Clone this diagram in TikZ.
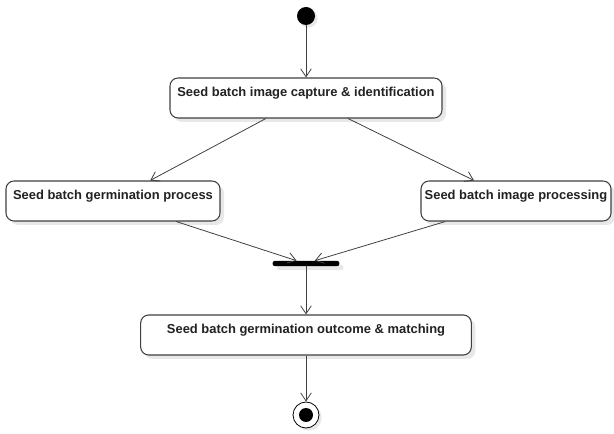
\documentclass[tikz,border=0pt]{standalone}
\usepackage{fontspec}
\newfontfamily\actfont{Liberation Sans}
\usetikzlibrary{positioning,arrows.meta,calc,shadows}
\definecolor{ActLine}{RGB}{64,64,64}
\definecolor{ActText}{RGB}{34,34,34}
\definecolor{ActShade}{RGB}{232,232,232}
\tikzset{
  act box/.style={
    draw=ActLine,
    line width=0.8pt,
    rounded corners=6pt,
    fill=white,
    align=center,
    font=\actfont\bfseries\fontsize{9.7}{11}\selectfont,
    text=ActText,
    inner sep=2pt,
    minimum height=30pt,
    drop shadow={shadow xshift=3pt, shadow yshift=-3pt, fill=ActShade, opacity=1}
  },
  act start/.style={circle, fill=black, minimum size=13.5pt, inner sep=0pt,
    drop shadow={shadow xshift=2pt, shadow yshift=-2pt, fill=ActShade, opacity=1}},
  act bar/.style={rectangle, rounded corners=1.5pt, fill=black, minimum width=50pt,
    minimum height=3.8pt, inner sep=0pt,
    drop shadow={shadow xshift=3pt, shadow yshift=-3pt, fill=ActShade, opacity=1}},
  act end/.style={circle, draw=black, fill=white, line width=0.6pt, minimum size=19.5pt,
    inner sep=0pt,
    drop shadow={shadow xshift=2pt, shadow yshift=-2pt, fill=ActShade, opacity=1}},
  act dot/.style={circle, fill=black, minimum size=10.5pt, inner sep=0pt},
  act arrow/.style={-{Straight Barb[length=6pt,width=8pt,line width=0.6pt]}, line width=0.6pt, ActLine}
}

\begin{document}
\begin{tikzpicture}[x=0.75pt,y=-0.75pt]
\useasboundingbox (0,0) rectangle (614,434);
\node[act start] (init) at (306,16) {};
\node[act box, minimum width=204pt] (cap) at (306,98) {Seed batch image capture \& identification\\[-1pt]\mbox{}};
\node[act box, minimum width=160.5pt] (germ) at (113,201) {Seed batch germination process\\[-1pt]\mbox{}};
\node[act box, minimum width=142.5pt] (proc) at (516,201) {Seed batch image processing\\[-1pt]\mbox{}};
\node[act bar] (join) at (306,263.5) {};
\node[act box, minimum width=248pt] (match) at (306,335) {Seed batch germination outcome \& matching\\[-1pt]\mbox{}};
\node[act end] (final) at (306,415) {};
\node[act dot] at (final) {};
% flow
\draw[act arrow] (init)--(cap);
\draw[act arrow] ($(cap.south west)!0.353!(cap.south east)$)--($(germ.north west)!0.673!(germ.north east)$);
\draw[act arrow] ($(cap.south west)!0.654!(cap.south east)$)--($(proc.north west)!0.28!(proc.north east)$);
\draw[act arrow] ($(germ.south west)!0.794!(germ.south east)$)--($(join.north west)!0.36!(join.north east)$);
\draw[act arrow] ($(proc.south west)!0.13!(proc.south east)$)--($(join.north west)!0.63!(join.north east)$);
\draw[act arrow] (join)--(match);
\draw[act arrow] (match)--(final);
\end{tikzpicture}
\end{document}
